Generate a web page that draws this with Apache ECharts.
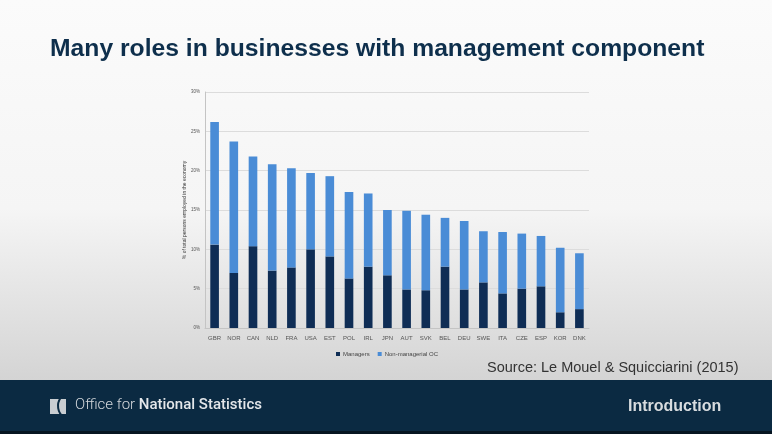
<!DOCTYPE html>
<html>
<head>
<meta charset="utf-8">
<style>
  html, body { margin: 0; padding: 0; }
  #chart { width: 772px; height: 434px; }
</style>
<script src="https://cdn.jsdelivr.net/npm/echarts@6/dist/echarts.min.js"></script>
</head>
<body>
<div id="chart"></div>
<script>
  // values (% of total persons employed)
  var countries = ['GBR', 'NOR', 'CAN', 'NLD', 'FRA', 'USA', 'EST', 'POL', 'IRL', 'JPN',
    'AUT', 'SVK', 'BEL', 'DEU', 'SWE', 'ITA', 'CZE', 'ESP', 'KOR', 'DNK'];
  var managers = [10.6, 7.0, 10.4, 7.3, 7.7, 10.0, 9.1, 6.3, 7.8, 6.7,
    4.9, 4.8, 7.8, 4.9, 5.8, 4.4, 5.0, 5.3, 2.0, 2.4];
  var nonManagerial = [15.6, 16.7, 11.4, 13.5, 12.6, 9.7, 10.2, 11.0, 9.3, 8.3,
    10.0, 9.6, 6.2, 8.7, 6.5, 7.8, 7.0, 6.4, 8.2, 7.1];
  var yTicks = [0, 5, 10, 15, 20, 25, 30];

  var chart = echarts.init(document.getElementById('chart'));

  var option = {
    animation: false,
    backgroundColor: '#0b2a42',
    title: {
      text: 'Many roles in businesses with management component',
      left: 50,
      top: 37,
      padding: 0,
      textStyle: {
        fontFamily: 'Liberation Sans',
        fontWeight: 'bold',
        fontSize: 24.7,
        color: '#0e2f4c'
      }
    },
    legend: {
      data: ['Managers', 'Non-managerial OC'],
      left: 331,
      top: 346,
      itemWidth: 4,
      itemHeight: 4,
      itemGap: 8,
      icon: 'rect',
      textStyle: { fontSize: 6, color: '#444', padding: [0, 0, 0, -2] }
    },
    grid: { left: 205, right: 183, top: 92, bottom: 106 },
    xAxis: {
      type: 'category',
      data: countries,
      axisLine: { lineStyle: { color: '#c4c4c4' } },
      axisTick: { show: false },
      axisLabel: { fontSize: 6, color: '#555', margin: 7 }
    },
    yAxis: {
      type: 'value',
      min: 0,
      max: 30,
      interval: 5,
      name: '% of total persons employed in the economy',
      nameLocation: 'middle',
      nameGap: 18,
      nameMoveOverlap: false,
      nameTextStyle: { fontSize: 5, color: '#333' },
      axisLine: { show: true, lineStyle: { color: '#c4c4c4' } },
      axisLabel: {
        fontSize: 4.5,
        color: '#555',
        margin: 5,
        formatter: function (v) { return yTicks.indexOf(v) >= 0 ? v + '%' : ''; }
      },
      splitLine: { lineStyle: { color: '#dcdcdc' } }
    },
    series: [{
      name: 'Managers',
      type: 'bar',
      stack: 'total',
      barWidth: '45%',
      itemStyle: { color: '#0f2d55' },
      data: managers
    }, {
      name: 'Non-managerial OC',
      type: 'bar',
      stack: 'total',
      itemStyle: { color: '#4a8cd6' },
      data: nonManagerial
    }],
    graphic: [{
      type: 'rect',
      z: -10,
      silent: true,
      shape: { x: 0, y: 0, width: 772, height: 380 },
      style: {
        fill: new echarts.graphic.LinearGradient(0, 0, 0, 1, [
          { offset: 0, color: '#fbfbfb' },
          { offset: 0.55, color: '#f5f5f5' },
          { offset: 1, color: '#d4d4d4' }
        ])
      }
    }, {
      type: 'rect',
      z: -10,
      silent: true,
      shape: { x: 0, y: 431, width: 772, height: 3 },
      style: { fill: '#061521' }
    }, {
      type: 'text',
      left: 487,
      top: 360,
      style: {
        text: 'Source: Le Mouel & Squicciarini (2015)',
        fontFamily: 'Liberation Sans',
        fontSize: 14.5,
        fill: '#333'
      }
    }, {
      type: 'rect',
      shape: { x: 50, y: 399, width: 16, height: 15 },
      style: { fill: '#c9cdd1' }
    }, {
      type: 'arc',
      shape: { cx: 72, cy: 406, r: 14, startAngle: Math.PI * 0.7, endAngle: Math.PI * 1.3 },
      style: { stroke: '#0b2a42', lineWidth: 2, fill: null }
    }, {
      type: 'text',
      left: 75,
      top: 398,
      style: {
        text: '{a|Office for }{b|National Statistics}',
        rich: {
          a: { fontFamily: 'Roboto', fontSize: 15, fontWeight: 300, fill: '#d4d8dc' },
          b: { fontFamily: 'Roboto', fontSize: 15, fontWeight: 500, fill: '#e4e7ea' }
        }
      }
    }, {
      type: 'text',
      left: 628,
      top: 399,
      style: {
        text: 'Introduction',
        fontFamily: 'Liberation Sans',
        fontWeight: 'bold',
        fontSize: 16,
        fill: '#d8dcdf'
      }
    }]
  };

  chart.setOption(option);
</script>
</body>
</html>
